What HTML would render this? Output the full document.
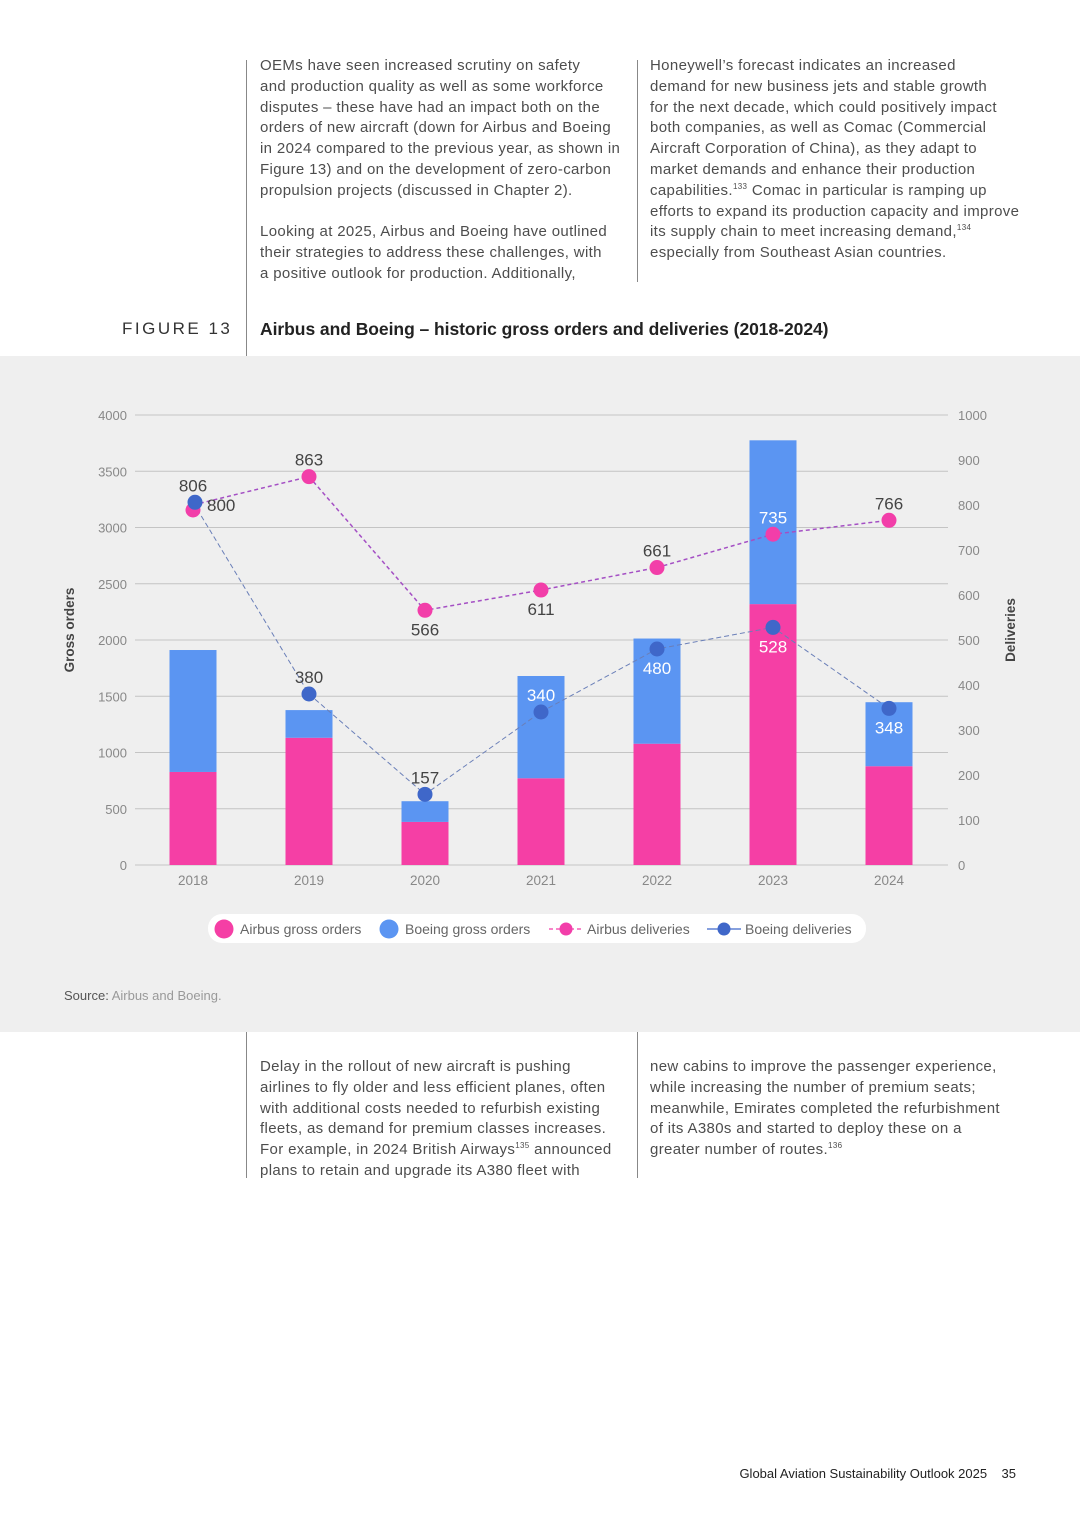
<!DOCTYPE html>
<html><head><meta charset="utf-8">
<style>
body{margin:0;width:1080px;height:1527px;background:#fff;font-family:"Liberation Sans",Arial,sans-serif;position:relative;overflow:hidden;color:#4a4a4a}
.col{position:absolute;font-size:15px;line-height:20.8px;color:#4d4d4d;letter-spacing:0.35px;white-space:nowrap}
.vl{position:absolute;width:1px;background:#888}
sup{font-size:8px;line-height:0}
#gray{position:absolute;left:0;top:356px;width:1080px;height:676px;background:#efefef}
</style></head><body>
<div class="vl" style="left:246px;top:60px;height:296px"></div>
<div class="vl" style="left:637px;top:60px;height:222px"></div>
<div class="col" style="left:260px;top:56px">OEMs have seen increased scrutiny on safety<br>and production quality as well as some workforce<br>disputes – these have had an impact both on the<br>orders of new aircraft (down for Airbus and Boeing<br>in 2024 compared to the previous year, as shown in<br>Figure 13) and on the development of zero-carbon<br>propulsion projects (discussed in Chapter 2).<br><br>Looking at 2025, Airbus and Boeing have outlined<br>their strategies to address these challenges, with<br>a positive outlook for production. Additionally,</div>
<div class="col" style="left:650px;top:56px">Honeywell’s forecast indicates an increased<br>demand for new business jets and stable growth<br>for the next decade, which could positively impact<br>both companies, as well as Comac (Commercial<br>Aircraft Corporation of China), as they adapt to<br>market demands and enhance their production<br>capabilities.<sup>133</sup> Comac in particular is ramping up<br>efforts to expand its production capacity and improve<br>its supply chain to meet increasing demand,<sup>134</sup><br>especially from Southeast Asian countries.</div>
<div style="position:absolute;left:122px;top:319px;font-size:17px;letter-spacing:2.5px;color:#333">FIGURE 13</div>
<div style="position:absolute;left:260px;top:319px;font-size:17.5px;font-weight:bold;color:#222;letter-spacing:-0.05px">Airbus and Boeing – historic gross orders and deliveries (2018-2024)</div>
<div id="gray"></div>
<svg id="chart" width="1080" height="1527" style="position:absolute;left:0;top:0" font-family="Liberation Sans, Arial, sans-serif"></svg>
<div style="position:absolute;left:64px;top:988px;font-size:13px;color:#999"><b style="color:#555;font-weight:normal">Source:</b> Airbus and Boeing.</div>
<div class="vl" style="left:246px;top:1032px;height:146px"></div>
<div class="vl" style="left:637px;top:1032px;height:146px"></div>
<div class="col" style="left:260px;top:1057px">Delay in the rollout of new aircraft is pushing<br>airlines to fly older and less efficient planes, often<br>with additional costs needed to refurbish existing<br>fleets, as demand for premium classes increases.<br>For example, in 2024 British Airways<sup>135</sup> announced<br>plans to retain and upgrade its A380 fleet with</div>
<div class="col" style="left:650px;top:1057px">new cabins to improve the passenger experience,<br>while increasing the number of premium seats;<br>meanwhile, Emirates completed the refurbishment<br>of its A380s and started to deploy these on a<br>greater number of routes.<sup>136</sup></div>
<div style="position:absolute;right:64px;top:1466px;font-size:13px;color:#222">Global Aviation Sustainability Outlook 2025 &nbsp;&nbsp; 35</div>
<script>
const years=['2018','2019','2020','2021','2022','2023','2024'];
const airbusOrders=[827,1131,383,771,1078,2319,878];
const boeingOrders=[1084,246,184,909,935,1456,569];
const airbusDeliveries=[800,863,566,611,661,735,766];
const boeingDeliveries=[806,380,157,340,480,528,348];
const leftTicks=[0,500,1000,1500,2000,2500,3000,3500,4000];
const rightTicks=[0,100,200,300,400,500,600,700,800,900,1000];
const airbusLabelPos=['right','above','below','below','above','above','above'];
const boeingLabelPos=['above','above','above','above','below','below','below'];
const svg=document.getElementById('chart');const NS='http://www.w3.org/2000/svg';
const X0=135,X1=948,Y0=865,Y1=415;
const yL=v=>Y0-(v/4000)*(Y0-Y1);
const yR=v=>Y0-(v/1000)*(Y0-Y1);
const xB=i=>193+i*116;
function el(t,a,txt){const e=document.createElementNS(NS,t);for(const k in a)e.setAttribute(k,a[k]);if(txt!=null)e.textContent=txt;svg.appendChild(e);return e;}
leftTicks.forEach((v,i)=>{const g=el('line',{x1:X0,x2:X1,y1:yL(v),y2:yL(v),stroke:'#c4c4c4','stroke-width':1});

const t=el('text',{x:127,y:yL(v)+5,'text-anchor':'end','font-size':13,fill:'#888'},v);
});
rightTicks.forEach(v=>{const t=el('text',{x:958,y:yR(v)+5,'font-size':13,fill:'#888'},v);
});
years.forEach((y,i)=>{const a=airbusOrders[i],b=boeingOrders[i];
const r1=el('rect',{x:xB(i)-23.5,width:47,y:yL(a),height:Y0-yL(a),fill:'#f53fa5'});

const r2=el('rect',{x:xB(i)-23.5,width:47,y:yL(a+b),height:yL(a)-yL(a+b),fill:'#5b95f2'});

const t=el('text',{x:xB(i),y:885,'text-anchor':'middle','font-size':13.5,fill:'#888'},y);
});
const pa=el('polyline',{points:airbusDeliveries.map((v,i)=>xB(i)+','+yR(v)).join(' '),fill:'none',stroke:'#a44fc4','stroke-width':1.5,'stroke-dasharray':'4,3'});

const pb=el('polyline',{points:boeingDeliveries.map((v,i)=>xB(i)+','+yR(v)).join(' '),fill:'none',stroke:'#6a7fb8','stroke-width':1,'stroke-dasharray':'5,3'});

function lab(i,v,pos){const x=xB(i),y=yR(v);let tx=x,ty,anc='middle';
if(pos==='above')ty=y-11;else if(pos==='below')ty=y+25;else{tx=x+14;ty=y+6;anc='start';}
const inBar=yR(v)>yL(airbusOrders[i]+boeingOrders[i])+2 && pos!=='right';
const t=el('text',{x:tx,y:ty,'text-anchor':anc,'font-size':17,fill:inBar?'#fff':'#444'},v);
}
airbusDeliveries.forEach((v,i)=>{const c=el('circle',{cx:xB(i),cy:yR(v)+(i==0?5:0),r:7.5,fill:'#f23ea9'});
lab(i,v,airbusLabelPos[i]);});
boeingDeliveries.forEach((v,i)=>{const c=el('circle',{cx:xB(i)+(i==0?2:0),cy:yR(v),r:7.5,fill:'#3f67c9'});
lab(i,v,boeingLabelPos[i]);});
const ya=el('text',{x:0,y:0,transform:'translate(74,630) rotate(-90)','text-anchor':'middle','font-size':13.5,'font-weight':'bold',fill:'#444'},'Gross orders');

const yb=el('text',{x:0,y:0,transform:'translate(1015,630) rotate(-90)','text-anchor':'middle','font-size':13.5,'font-weight':'bold',fill:'#444'},'Deliveries');

const lg=el('rect',{x:208,y:914,width:658,height:29,rx:14,fill:'#fff'});

const items=[['Airbus gross orders','#f53fa5','dot',224],['Boeing gross orders','#5b95f2','dot',389],['Airbus deliveries','#f23ea9','line',566],['Boeing deliveries','#3f67c9','line',724]];
items.forEach(it=>{if(it[2]=='line'){const l=el('line',{x1:it[3]-17,x2:it[3]+17,y1:929,y2:929,stroke:it[1],'stroke-width':1.2,'stroke-dasharray':it[0][0]=='A'?'4,3':'none'});}
const c=el('circle',{cx:it[3],cy:929,r:it[2]=='dot'?9.5:6.5,fill:it[1]});

const t=el('text',{x:it[3]+(it[2]=='dot'?16:21),y:934,'font-size':14,fill:'#666'},it[0]);
});
</script>
</body></html>
